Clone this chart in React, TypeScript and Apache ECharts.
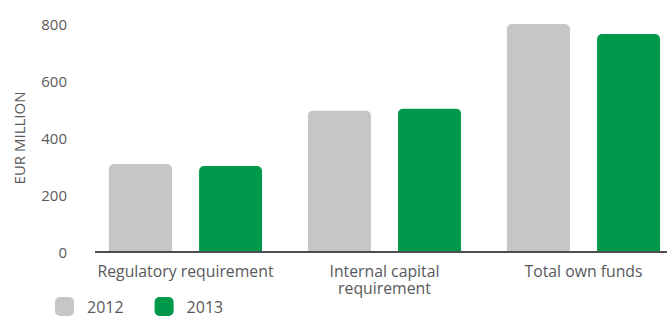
import React, { useEffect, useRef } from "react";
import * as echarts from "echarts";

const categories = ["Regulatory requirement", "Internal capital\nrequirement", "Total own funds"];
const values2012 = [309, 496, 802];
const values2013 = [302, 503, 765];
const yTicks = [0, 200, 400, 600, 800];

export default function App() {
  const ref = useRef<HTMLDivElement>(null);
  useEffect(() => {
    if (!ref.current) return;
    const chart = echarts.init(ref.current, undefined, { renderer: "svg" });
    const textColor = "#58595b";
    chart.setOption({
      animation: false,
      textStyle: { fontFamily: "Open Sans" },
      grid: { left: 86, width: 597, top: 24, bottom: 64, containLabel: false, outerBoundsMode: "none" },
      legend: {
        left: 55,
        top: 297,
        padding: 0,
        itemWidth: 19,
        itemHeight: 19,
        itemGap: 31,
        icon: "roundRect",
        textStyle: { color: textColor, fontSize: 16, fontFamily: "Open Sans", padding: [0, 0, 0, 8] },
        data: ["2012", "2013"],
      },
      xAxis: {
        type: "category",
        data: categories,
        axisLine: { show: false },
        axisTick: { show: false },
        axisLabel: { color: textColor, fontSize: 15.8, lineHeight: 17, margin: 10, interval: 0, hideOverlap: false, fontFamily: "Open Sans" },
      },
      yAxis: {
        type: "value",
        min: yTicks[0],
        max: yTicks[yTicks.length - 1],
        interval: 200,
        name: "EUR MILLION",
        nameLocation: "middle",
        nameRotate: 90,
        nameGap: 60,
        nameTextStyle: { color: textColor, fontSize: 15, fontFamily: "Open Sans" },
        splitLine: { show: false },
        axisLine: { show: false },
        axisTick: { show: false },
        axisLabel: { color: textColor, fontSize: 15, margin: 19, fontFamily: "Open Sans" },
      },
      graphic: [
        {
          type: "line",
          shape: { x1: 95, y1: 252, x2: 667, y2: 252 },
          style: { stroke: "#4d4d4f", lineWidth: 2 },
          z: 10,
        },
      ],
      series: [
        {
          name: "2012",
          type: "bar",
          data: values2012,
          barWidth: 63,
          barGap: "43%",
          itemStyle: { color: "#c5c6c8", borderRadius: [5, 5, 0, 0] },
        },
        {
          name: "2013",
          type: "bar",
          data: values2013,
          barWidth: 63,
          itemStyle: { color: "#00994c", borderRadius: [5, 5, 0, 0] },
        },
      ],
    });
    return () => chart.dispose();
  }, []);
  return <div ref={ref} style={{ width: 667, height: 316, position: "absolute", left: 0, top: 0 }} />;
}
